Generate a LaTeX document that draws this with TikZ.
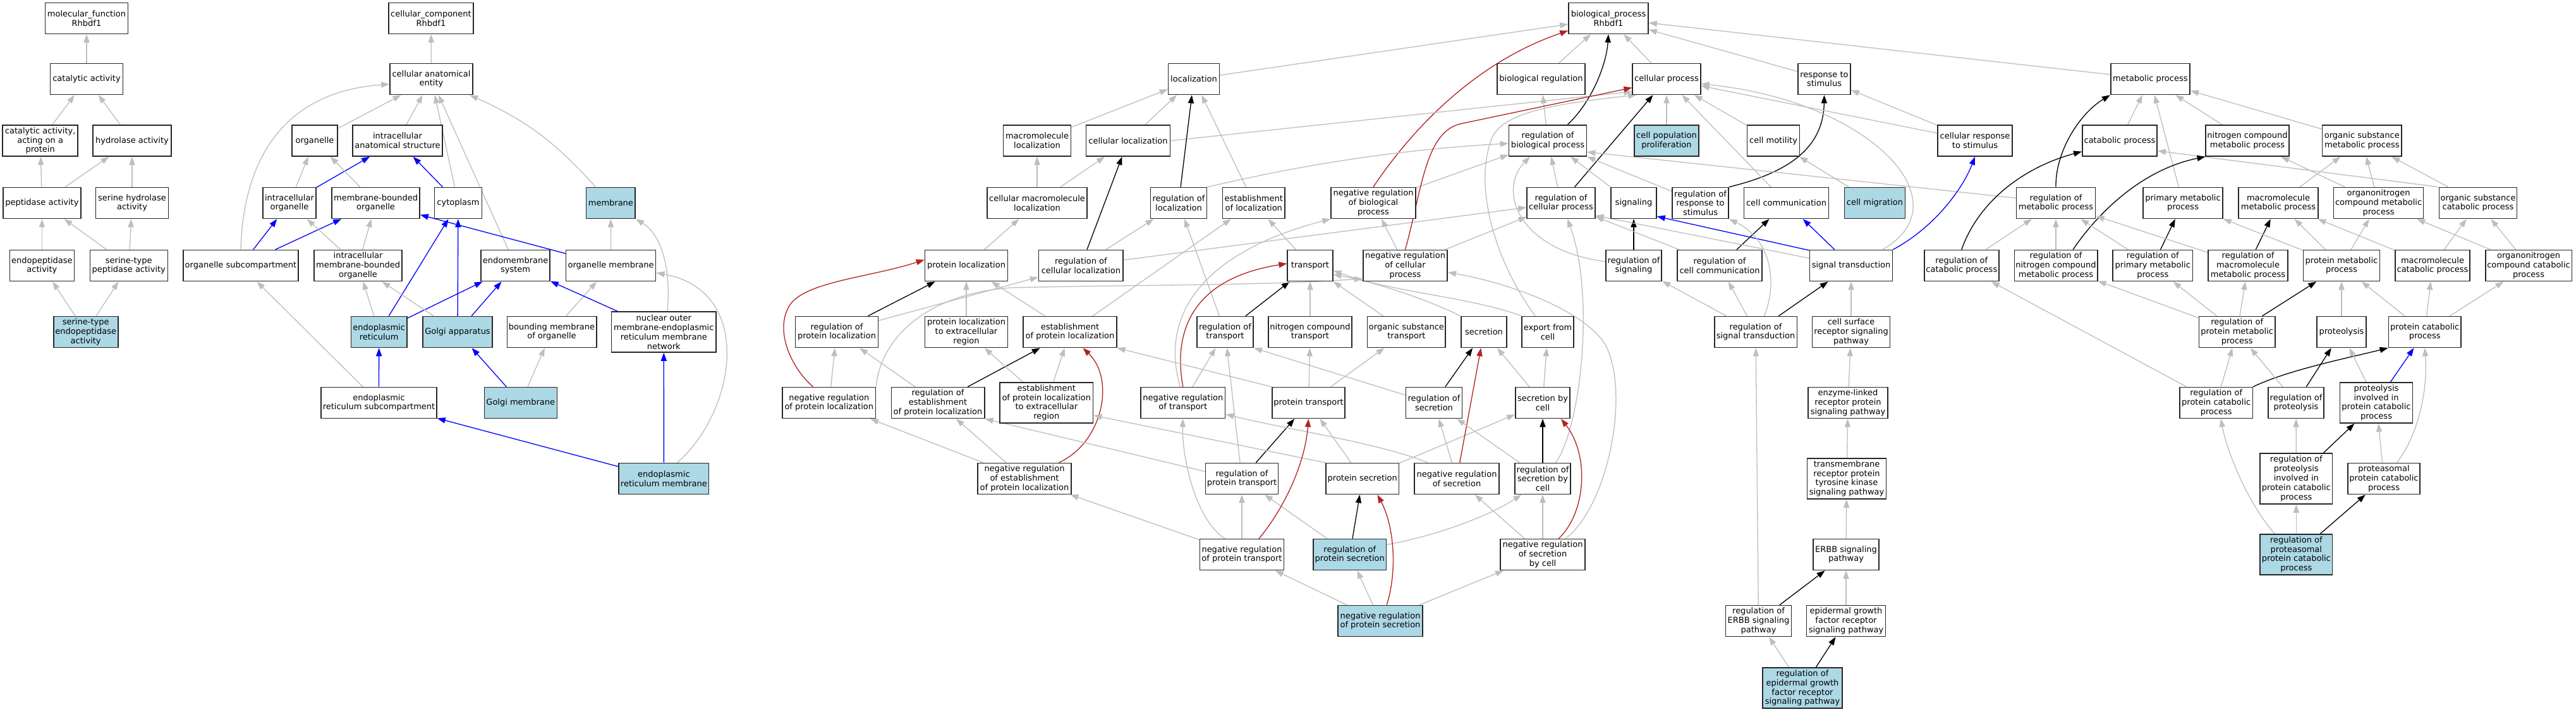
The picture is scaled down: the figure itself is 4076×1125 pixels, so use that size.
\documentclass[tikz,border=0pt]{standalone}
\usepackage{fontspec}
\setmainfont{DejaVu Sans}
\usetikzlibrary{arrows.meta}
\definecolor{edgegrey}{RGB}{190,190,190}
\definecolor{hlblue}{RGB}{173,216,230}
\definecolor{negred}{RGB}{178,34,34}
\definecolor{pblue}{RGB}{0,0,255}
\newcommand{\nodefnt}{\fontsize{6.5pt}{7.4pt}\selectfont}
\pgfdeclarelayer{back}
\pgfdeclarelayer{edges}
\pgfsetlayers{back,edges,main}
\tikzset{
  box/.style={draw=black!85, line width=0.8pt, fill=white, align=center, inner sep=0pt, minimum height=24.5pt, font=\nodefnt},
  hl/.style={fill=hlblue},
  tip/.style={-{Triangle[length=6.5pt,width=4.6pt]}},
  isa/.style={draw=edgegrey, line width=0.65pt, tip},
  reg/.style={draw=black, line width=0.65pt, tip},
  partof/.style={draw=pblue, line width=0.65pt, tip},
  negreg/.style={draw=negred, line width=0.65pt, tip}
}
\begin{document}
\begin{tikzpicture}[x=0.5pt,y=-0.5pt]
\begin{pgfonlayer}{back}
\fill[white] (0,0) rectangle (4076,1125);
\end{pgfonlayer}
\useasboundingbox (0,0) rectangle (4076,1125);

% ---------- molecular function ----------
\node[box,minimum width=65.5pt] (mf) at (137,29) {molecular\_function\\Rhbdf1};
\node[box,minimum width=57.5pt] (catact) at (137,125) {catalytic activity};
\node[box,minimum width=59.5pt] (catprot) at (63.7,222.5) {catalytic activity,\\acting on a\\protein};
\node[box,minimum width=62pt] (hydro) at (209,222.5) {hydrolase activity};
\node[box,minimum width=61.5pt] (pept) at (66.4,321) {peptidase activity};
\node[box,minimum width=57.5pt] (serhyd) at (209,321) {serine hydrolase\\activity};
\node[box,minimum width=51pt] (endopep) at (66.4,420) {endopeptidase\\activity};
\node[box,minimum width=61.5pt] (serpep) at (203.8,420) {serine-type\\peptidase activity};
\node[box,hl,minimum width=51pt] (serendo) at (135.7,525) {serine-type\\endopeptidase\\activity};

% ---------- cellular component ----------
\node[box,minimum width=67pt] (cc) at (682,29) {cellular\_component\\Rhbdf1};
\node[box,minimum width=65.5pt] (cae) at (682.5,125) {cellular anatomical\\entity};
\node[box,minimum width=36pt] (organelle) at (498,222.5) {organelle};
\node[box,minimum width=70.75pt] (ias) at (629,222.5) {intracellular\\anatomical structure};
\node[box,minimum width=42pt] (intorg) at (458,321) {intracellular\\organelle};
\node[box,minimum width=69.5pt] (mbo) at (594.6,321) {membrane-bounded\\organelle};
\node[box,minimum width=37.5pt] (cytoplasm) at (725,321) {cytoplasm};
\node[box,hl,minimum width=38.8pt] (membrane) at (966.4,321) {membrane};
\node[box,minimum width=91pt] (orgsub) at (381,420) {organelle subcompartment};
\node[box,minimum width=69.5pt] (imbo) at (566.6,420) {intracellular\\membrane-bounded\\organelle};
\node[box,minimum width=54.5pt] (endomem) at (815.6,420) {endomembrane\\system};
\node[box,minimum width=71pt] (orgmem) at (966.6,420) {organelle membrane};
\node[box,hl,minimum width=44.25pt] (er) at (599.7,525) {endoplasmic\\reticulum};
\node[box,hl,minimum width=55pt] (golgi) at (724,525) {Golgi apparatus};
\node[box,minimum width=70.7pt] (bound) at (873,525) {bounding membrane\\of organelle};
\node[box,minimum width=82.85pt,minimum height=32pt] (nuclear) at (1050.3,525) {nuclear outer\\membrane-endoplasmic\\reticulum membrane\\network};
\node[box,minimum width=91.5pt] (ersub) at (599.5,637) {endoplasmic\\reticulum subcompartment};
\node[box,hl,minimum width=57.5pt] (golgimem) at (823.8,637) {Golgi membrane};
\node[box,hl,minimum width=71.15pt] (ermem) at (1050.4,757) {endoplasmic\\reticulum membrane};

% ---------- biological process ----------
\node[box,minimum width=63pt] (bp) at (2545,29) {biological\_process\\Rhbdf1};
\node[box,minimum width=40.35pt] (loc) at (1889,125) {localization};
\node[box,minimum width=69.5pt] (bioreg) at (2438.5,125) {biological regulation};
\node[box,minimum width=53.8pt] (cellproc) at (2637,125) {cellular process};
\node[box,minimum width=41.65pt] (resp) at (2886.5,125) {response to\\stimulus};
\node[box,minimum width=62.7pt] (metab) at (3402.4,125) {metabolic process};

\node[box,minimum width=53.5pt] (macloc) at (1641,222.5) {macromolecule\\localization};
\node[box,minimum width=66.5pt] (cellloc) at (1785,222.5) {cellular localization};
\node[box,minimum width=61.5pt] (rbp) at (2449,222.5) {regulation of\\biological process};
\node[box,hl,minimum width=51.15pt] (cpp) at (2637,222.5) {cell population\\proliferation};
\node[box,minimum width=41.65pt] (motil) at (2806,222.5) {cell motility};
\node[box,minimum width=58.75pt] (cresp) at (3125,222.5) {cellular response\\to stimulus};
\node[box,minimum width=59.2pt] (catab) at (3354,222.5) {catabolic process};
\node[box,minimum width=65.75pt] (ncmp) at (3556,222.5) {nitrogen compound\\metabolic process};
\node[box,minimum width=62.75pt] (osmp) at (3737.3,222.5) {organic substance\\metabolic process};

\node[box,minimum width=79pt] (cmacloc) at (1641,321) {cellular macromolecule\\localization};
\node[box,minimum width=44.5pt] (regloc) at (1865,321) {regulation of\\localization};
\node[box,minimum width=49.2pt] (estloc) at (1983.8,321) {establishment\\of localization};
\node[box,minimum width=66.8pt] (nrbp) at (2173,321) {negative regulation\\of biological\\process};
\node[box,minimum width=53.8pt] (rcp) at (2470,321) {regulation of\\cellular process};
\node[box,minimum width=36pt] (signaling) at (2585,321) {signaling};
\node[box,minimum width=44.7pt] (rrs) at (2690.5,321) {regulation of\\response to\\stimulus};
\node[box,minimum width=67pt] (cellcomm) at (2826.5,321) {cell communication};
\node[box,hl,minimum width=47.9pt] (migr) at (2966.5,321) {cell migration};
\node[box,minimum width=62.65pt] (rmp) at (3253,321) {regulation of\\metabolic process};
\node[box,minimum width=63pt] (pmp) at (3454,321) {primary metabolic\\process};
\node[box,minimum width=62.75pt] (mmp) at (3605,321) {macromolecule\\metabolic process};
\node[box,minimum width=71pt] (onmp) at (3763.6,321) {organonitrogen\\compound metabolic\\process};
\node[box,minimum width=61.65pt] (oscp) at (3921,321) {organic substance\\catabolic process};

\node[box,minimum width=65.5pt] (protloc) at (1529,420) {protein localization};
\node[box,minimum width=66.8pt] (rcellloc) at (1710.4,420) {regulation of\\cellular localization};
\node[box,minimum width=35.8pt] (transport) at (2073,420) {transport};
\node[box,minimum width=66.75pt] (nrcp) at (2223.5,420) {negative regulation\\of cellular\\process};
\node[box,minimum width=44.25pt] (rsig) at (2585,420) {regulation of\\signaling};
\node[box,minimum width=67pt] (rcc) at (2721,420) {regulation of\\cell communication};
\node[box,minimum width=65.5pt] (sigtr) at (2929,420) {signal transduction};
\node[box,minimum width=59pt] (rcat) at (3103.8,420) {regulation of\\catabolic process};
\node[box,minimum width=65.7pt] (rncmp) at (3253,420) {regulation of\\nitrogen compound\\metabolic process};
\node[box,minimum width=63.1pt] (rpmp) at (3406.3,420) {regulation of\\primary metabolic\\process};
\node[box,minimum width=62.75pt] (rmmp) at (3557,420) {regulation of\\macromolecule\\metabolic process};
\node[box,minimum width=60.35pt] (protmp) at (3705,420) {protein metabolic\\process};
\node[box,minimum width=59pt] (maccp) at (3849,420) {macromolecule\\catabolic process};
\node[box,minimum width=68.3pt] (onccp) at (4001,420) {organonitrogen\\compound catabolic\\process};

\node[box,minimum width=65.5pt] (rprotloc) at (1324,525) {regulation of\\protein localization};
\node[box,minimum width=65.5pt] (plextr) at (1529,525) {protein localization\\to extracellular\\region};
\node[box,minimum width=73.75pt] (estprotloc) at (1693,525) {establishment\\of protein localization};
\node[box,minimum width=44.7pt] (rtrans) at (1938.5,525) {regulation of\\transport};
\node[box,minimum width=65.75pt] (nctrans) at (2073,525) {nitrogen compound\\transport};
\node[box,minimum width=61.8pt] (ostrans) at (2225.4,525) {organic substance\\transport};
\node[box,minimum width=36pt] (secretion) at (2348,525) {secretion};
\node[box,minimum width=41.2pt] (export) at (2449,525) {export from\\cell};
\node[box,minimum width=65.3pt] (rst) at (2778,525) {regulation of\\signal transduction};
\node[box,minimum width=61.6pt] (csrsp) at (2929,525) {cell surface\\receptor signaling\\pathway};
\node[box,minimum width=60.35pt] (rprotmp) at (3539.7,525) {regulation of\\protein metabolic\\process};
\node[box,minimum width=39pt] (proteolysis) at (3705,525) {proteolysis};
\node[box,minimum width=57.35pt] (protcp) at (3836.7,525) {protein catabolic\\process};

\node[box,minimum width=73.8pt] (nrprotloc) at (1311.8,637) {negative regulation\\of protein localization};
\node[box,minimum width=73.7pt] (restprotloc) at (1484,637) {regulation of\\establishment\\of protein localization};
\node[box,minimum width=73.75pt,minimum height=32pt] (estplextr) at (1655.8,637) {establishment\\of protein localization\\to extracellular\\region};
\node[box,minimum width=66.75pt] (nrtrans) at (1871.8,637) {negative regulation\\of transport};
\node[box,minimum width=57.5pt] (prottrans) at (2070.5,637) {protein transport};
\node[box,minimum width=44.5pt] (rsec) at (2269,637) {regulation of\\secretion};
\node[box,minimum width=43.15pt] (secbycell) at (2441,637) {secretion by\\cell};
\node[box,minimum width=62.85pt] (elrpsp) at (2924,637) {enzyme-linked\\receptor protein\\signaling pathway};
\node[box,minimum width=57.6pt] (rprotcp) at (3506.7,637) {regulation of\\protein catabolic\\process};
\node[box,minimum width=44.2pt] (rproteolysis) at (3633,637) {regulation of\\proteolysis};
\node[box,minimum width=57.35pt,minimum height=32pt] (pipcp) at (3760,637) {proteolysis\\involved in\\protein catabolic\\process};

\node[box,minimum width=74pt] (nrestprotloc) at (1621,757) {negative regulation\\of establishment\\of protein localization};
\node[box,minimum width=57.5pt] (rprottrans) at (1965,757) {regulation of\\protein transport};
\node[box,minimum width=57.7pt] (protsec) at (2155.8,757) {protein secretion};
\node[box,minimum width=67pt] (nrsec) at (2305,757) {negative regulation\\of secretion};
\node[box,minimum width=44.25pt] (rsecbycell) at (2441,757) {regulation of\\secretion by\\cell};
\node[box,minimum width=62.65pt,minimum height=32pt] (tmrtk) at (2922,757) {transmembrane\\receptor protein\\tyrosine kinase\\signaling pathway};
\node[box,minimum width=57.35pt,minimum height=40pt] (rpipcp) at (3633.3,757) {regulation of\\proteolysis\\involved in\\protein catabolic\\process};
\node[box,minimum width=57.15pt] (ppcp) at (3772,757) {proteasomal\\protein catabolic\\process};

\node[box,minimum width=66.5pt] (nrprottrans) at (1965,877) {negative regulation\\of protein transport};
\node[box,hl,minimum width=57.7pt] (rprotsec) at (2135.8,877) {regulation of\\protein secretion};
\node[box,minimum width=66.8pt] (nrsecbycell) at (2441,877) {negative regulation\\of secretion\\by cell};
\node[box,minimum width=52pt] (erbb) at (2921,877) {ERBB signaling\\pathway};
\node[box,hl,minimum width=57.35pt,minimum height=32pt] (rppcp) at (3633.3,877) {regulation of\\proteasomal\\protein catabolic\\process};

\node[box,hl,minimum width=66.8pt] (nrprotsec) at (2184,982) {negative regulation\\of protein secretion};
\node[box,minimum width=52pt] (rerbb) at (2782.5,982) {regulation of\\ERBB signaling\\pathway};
\node[box,minimum width=62.65pt] (egfr) at (2921,982) {epidermal growth\\factor receptor\\signaling pathway};

\node[box,hl,minimum width=62.85pt,minimum height=32pt] (regfr) at (2852,1088) {regulation of\\epidermal growth\\factor receptor\\signaling pathway};

\begin{pgfonlayer}{edges}
% molecular function
\draw[isa] (catact) -- (mf);
\draw[isa] (catprot) -- (catact);
\draw[isa] (hydro) -- (catact);
\draw[isa] (pept) -- (catprot);
\draw[isa] (pept) -- (hydro);
\draw[isa] (serhyd) -- (hydro);
\draw[isa] (endopep) -- (pept);
\draw[isa] (serpep) -- (pept);
\draw[isa] (serpep) -- (serhyd);
\draw[isa] (serendo) -- (endopep);
\draw[isa] (serendo) -- (serpep);

% cellular component
\draw[isa] (cae) -- (cc);
\draw[isa] (organelle) -- (cae);
\draw[isa] (ias) -- (cae);
\draw[isa] (orgsub.north) .. controls (385,250) and (450,145) .. (cae.187);
\draw[isa] (intorg) -- (organelle);
\draw[partof] (intorg) -- (ias);
\draw[isa] (mbo) -- (organelle);
\draw[partof] (cytoplasm) -- (ias);
\draw[isa] (cytoplasm) -- (cae);
\draw[isa] (membrane) to[bend right=12] (cae);
\draw[isa] (endomem) -- (cae);
\draw[partof] (orgsub) -- (intorg);
\draw[partof] (orgsub) -- (mbo);
\draw[isa] (imbo) -- (intorg);
\draw[isa] (imbo) -- (mbo);
\draw[partof] (orgmem) -- (mbo);
\draw[isa] (orgmem) -- (membrane);
\draw[isa] (er) -- (imbo);
\draw[partof] (er) -- (cytoplasm);
\draw[partof] (er) -- (endomem);
\draw[isa] (golgi) -- (imbo);
\draw[partof] (golgi) -- (cytoplasm);
\draw[partof] (golgi) -- (endomem);
\draw[isa] (ersub) -- (orgsub);
\draw[partof] (ersub) -- (er);
\draw[partof] (golgimem) -- (golgi);
\draw[isa] (golgimem) -- (bound);
\draw[isa] (bound) -- (orgmem);
\draw[partof] (nuclear) -- (endomem);
\draw[isa] (nuclear.80) .. controls (1062,420) and (1045,370) .. (membrane.south east);
\draw[partof] (ermem) -- (ersub);
\draw[partof] (ermem) -- (nuclear);
\draw[isa] (ermem.50) .. controls (1165,650) and (1195,460) .. (orgmem.-9);

% biological process: upper levels
\draw[isa] (loc) -- (bp);
\draw[isa] (bioreg) -- (bp);
\draw[isa] (cellproc) -- (bp);
\draw[isa] (resp) -- (bp);
\draw[isa] (metab) -- (bp);
\draw[reg] (rbp.39) .. controls (2520,160) and (2542,100) .. (bp.south);
\draw[negreg] (nrbp.north) .. controls (2230,210) and (2330,100) .. (bp.197);
\draw[isa] (macloc) -- (loc);
\draw[isa] (cellloc) -- (loc);
\draw[isa] (cellloc.east) -- (cellproc.200);
\draw[reg] (regloc) -- (loc);
\draw[isa] (estloc) -- (loc);
\draw[isa] (cmacloc) -- (macloc);
\draw[isa] (cmacloc) -- (cellloc);
\draw[isa] (regloc.north east) .. controls (1980,280) and (2150,240) .. (rbp.184);
\draw[isa] (rbp) -- (bioreg);
\draw[isa] (cpp) -- (cellproc);
\draw[isa] (nrbp) -- (rbp);
\draw[isa] (rcp) -- (rbp);
\draw[reg] (rcp) -- (cellproc);
\draw[isa] (signaling.north west) -- (rbp.-35);
\draw[isa] (rrs) -- (rbp);
\draw[reg] (rrs.north east) .. controls (2820,275) and (2885,240) .. (resp.south);
\draw[isa] (cellcomm) -- (cellproc);
\draw[isa] (motil) -- (cellproc);
\draw[isa] (cresp) -- (cellproc);
\draw[isa] (cresp) -- (resp);
\draw[isa] (migr) -- (motil);
\draw[isa] (rmp.173) -- (rbp.-16);
\draw[reg] (rmp.north) .. controls (3252,240) and (3290,180) .. (metab.south west);
\draw[isa] (catab) -- (metab);
\draw[isa] (ncmp) -- (metab);
\draw[isa] (osmp) -- (metab);
\draw[isa] (pmp) -- (metab);
\draw[isa] (onmp) -- (ncmp);
\draw[isa] (onmp) -- (osmp);
\draw[isa] (mmp) -- (osmp);
\draw[isa] (oscp) -- (osmp);
\draw[isa] (oscp.north west) -- (catab.-15);

% localization / transport
\draw[isa] (protloc) -- (cmacloc);
\draw[reg] (rcellloc) -- (cellloc);
\draw[isa] (rcellloc) -- (regloc);
\draw[isa] (rcellloc) -- (rcp);
\draw[isa] (transport) -- (estloc);
\draw[reg] (rprotloc) -- (protloc);
\draw[isa] (rprotloc) -- (rcellloc);
\draw[isa] (plextr) -- (protloc);
\draw[isa] (estprotloc) -- (protloc);
\draw[isa] (estprotloc) -- (estloc);
\draw[isa] (rtrans) -- (regloc);
\draw[reg] (rtrans) -- (transport);
\draw[isa] (nctrans) -- (transport);
\draw[isa] (ostrans) -- (transport);
\draw[isa] (secretion.north west) .. controls (2250,470) and (2170,445) .. (transport.-21);
\draw[isa] (export.north west) .. controls (2330,470) and (2200,462) .. (transport.-12);
\draw[isa] (export.128) .. controls (2370,420) and (2330,300) .. (2360,220) .. controls (2375,180) and (2450,165) .. (cellproc.208);
\draw[negreg] (nrprotloc.135) .. controls (1250,580) and (1225,520) .. (1250,482) .. controls (1275,445) and (1380,438) .. (protloc.172);
\draw[isa] (nrprotloc) -- (rprotloc);
\draw[isa] (nrprotloc.north east) .. controls (1392,540) and (1460,465) .. (1600,455) .. controls (1800,450) and (2000,452) .. (nrcp.197);
\draw[isa] (restprotloc) -- (rprotloc);
\draw[reg] (restprotloc) -- (estprotloc);
\draw[isa] (estplextr) -- (plextr);
\draw[isa] (estplextr) -- (estprotloc);
\draw[isa] (nrtrans) -- (rtrans);
\draw[negreg] (nrtrans.north) .. controls (1855,520) and (1890,440) .. (transport.175);
\draw[isa] (nrtrans.100) .. controls (1835,500) and (1900,400) .. (nrbp.south west);
\draw[isa] (prottrans.north west) -- (estprotloc.south east);
\draw[isa] (prottrans) -- (nctrans);
\draw[isa] (prottrans) -- (ostrans);
\draw[isa] (rsec.165) -- (rtrans.south east);
\draw[reg] (rsec) -- (secretion);
\draw[isa] (secbycell) -- (secretion);
\draw[isa] (secbycell) -- (export);
\draw[isa] (nrestprotloc) -- (nrprotloc);
\draw[isa] (nrestprotloc) -- (restprotloc);
\draw[negreg] (nrestprotloc.25) .. controls (1745,700) and (1765,600) .. (estprotloc.-51);
\draw[isa] (rprottrans) -- (rtrans);
\draw[reg] (rprottrans) -- (prottrans);
\draw[isa] (rprottrans.169) -- (restprotloc.south east);
\draw[isa] (protsec) -- (prottrans);
\draw[isa] (protsec) -- (secbycell);
\draw[isa] (protsec.north west) -- (estplextr.-15);
\draw[isa] (nrsec.151) .. controls (2180,700) and (2040,680) .. (nrtrans.-15);
\draw[isa] (nrsec) -- (rsec);
\draw[negreg] (nrsec) -- (secretion);
\draw[isa] (rsecbycell) -- (rsec);
\draw[reg] (rsecbycell) -- (secbycell);
\draw[isa] (rsecbycell.51) .. controls (2500,680) and (2525,470) .. (rcp.-68);
\draw[reg] (rprotsec) -- (protsec);
\draw[isa] (rprotsec) -- (rprottrans);
\draw[isa] (rprotsec.15) .. controls (2260,850) and (2350,820) .. (rsecbycell.217);
\draw[isa] (nrsecbycell) -- (nrsec);
\draw[isa] (nrsecbycell) -- (rsecbycell);
\draw[negreg] (nrsecbycell.45) .. controls (2510,810) and (2515,720) .. (secbycell.-41);
\draw[isa] (nrsecbycell.35) .. controls (2545,800) and (2580,620) .. (2540,545) .. controls (2510,495) and (2400,450) .. (nrcp.-9);
\draw[isa] (nrprottrans) -- (nrestprotloc);
\draw[isa] (nrprottrans.137) .. controls (1890,820) and (1870,720) .. (nrtrans.south);
\draw[isa] (nrprottrans) -- (rprottrans);
\draw[negreg] (nrprottrans.43) .. controls (2035,800) and (2065,730) .. (prottrans.south);
\draw[isa] (nrprotsec) -- (nrprottrans);
\draw[isa] (nrprotsec) -- (rprotsec);
\draw[negreg] (nrprotsec.68) .. controls (2212,900) and (2205,830) .. (protsec.-47);
\draw[isa] (nrprotsec) -- (nrsecbycell);

% regulation of cellular process region
\draw[isa] (nrcp) -- (nrbp);
\draw[isa] (nrcp) -- (rcp);
\draw[negreg] (nrcp.north) .. controls (2250,300) and (2255,210) .. (2310,196) -- (cellproc.194);
\draw[reg] (rsig) -- (signaling);
\draw[isa] (rsig.172) .. controls (2400,395) and (2370,300) .. (rbp.-138);
\draw[reg] (rcc) -- (cellcomm);
\draw[isa] (rcc) -- (rcp);
\draw[isa] (sigtr.170) -- (rcp.-20);
\draw[partof] (sigtr.160) -- (signaling.-30);
\draw[partof] (sigtr) -- (cellcomm);
\draw[partof] (sigtr.north east) .. controls (3060,360) and (3105,300) .. (cresp.south);
\draw[isa] (sigtr.27) .. controls (3110,320) and (2960,160) .. (cellproc.-8);
\draw[isa] (rst) -- (rsig);
\draw[isa] (rst) -- (rcc);
\draw[isa] (rst.62) .. controls (2812,450) and (2805,380) .. (rrs.south east);
\draw[reg] (rst) -- (sigtr);
\draw[isa] (csrsp) -- (sigtr);
\draw[isa] (elrpsp) -- (csrsp);
\draw[isa] (tmrtk) -- (elrpsp);
\draw[isa] (erbb) -- (tmrtk);
\draw[reg] (rerbb) -- (erbb);
\draw[isa] (rerbb) -- (rst);
\draw[isa] (egfr) -- (erbb);
\draw[isa] (regfr) -- (rerbb);
\draw[reg] (regfr) -- (egfr);

% metabolism
\draw[reg] (rcat.north) .. controls (3130,320) and (3200,265) .. (catab.196);
\draw[isa] (rcat) -- (rmp);
\draw[isa] (rncmp) -- (rmp);
\draw[reg] (rncmp.43) .. controls (3310,350) and (3380,270) .. (ncmp.south west);
\draw[isa] (rpmp) -- (rmp);
\draw[reg] (rpmp) -- (pmp);
\draw[isa] (rmmp) -- (rmp);
\draw[reg] (rmmp) -- (mmp);
\draw[isa] (protmp) -- (pmp);
\draw[isa] (protmp) -- (mmp);
\draw[isa] (protmp) -- (onmp);
\draw[isa] (maccp) -- (mmp);
\draw[isa] (maccp) -- (oscp);
\draw[isa] (onccp) -- (onmp);
\draw[isa] (onccp) -- (oscp);
\draw[reg] (rprotmp) -- (protmp);
\draw[isa] (rprotmp) -- (rmmp);
\draw[isa] (rprotmp) -- (rpmp);
\draw[isa] (rprotmp) -- (rncmp);
\draw[isa] (proteolysis) -- (protmp);
\draw[isa] (protcp) -- (protmp);
\draw[isa] (protcp) -- (maccp);
\draw[isa] (protcp) -- (onccp);
\draw[isa] (rprotcp) -- (rprotmp);
\draw[isa] (rprotcp) -- (rcat);
\draw[reg] (rprotcp.north east) .. controls (3620,585) and (3720,565) .. (protcp.south west);
\draw[isa] (rproteolysis) -- (rprotmp);
\draw[reg] (rproteolysis) -- (proteolysis);
\draw[isa] (pipcp) -- (proteolysis);
\draw[partof] (pipcp) -- (protcp);
\draw[isa] (rpipcp) -- (rproteolysis);
\draw[reg] (rpipcp) -- (pipcp);
\draw[isa] (ppcp) -- (pipcp);
\draw[isa] (ppcp.51) .. controls (3825,690) and (3842,620) .. (protcp.south);
\draw[isa] (rppcp) -- (rpipcp);
\draw[reg] (rppcp) -- (ppcp);
\draw[isa] (rppcp.136) .. controls (3560,800) and (3525,720) .. (rprotcp.-74);
\end{pgfonlayer}
\end{tikzpicture}
\end{document}
